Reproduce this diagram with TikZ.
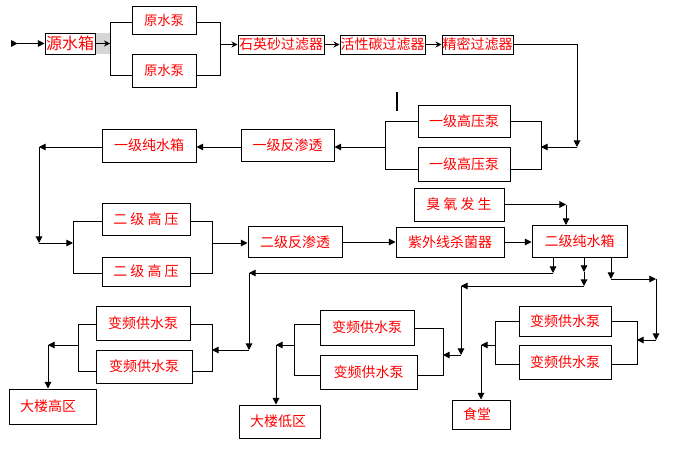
\documentclass[tikz,border=0pt]{standalone}
\usepackage{fontspec}
\setmainfont{Noto Sans CJK SC}
\usepackage{tikz}
\usetikzlibrary{arrows.meta,positioning}
\tikzstyle{box}=[draw=black, line width=0.75pt, inner sep=0pt, text=red, font=\fontsize{10.5}{12}\selectfont]
\tikzstyle{zone}=[box, align=left, inner xsep=8.25pt]
\tikzstyle{pipe}=[line width=0.75pt]
\tikzstyle{flow}=[pipe, -{Triangle[length=5pt,width=5pt]}]
\tikzstyle{feed}=[pipe, -{Stealth[length=4.5pt,width=4.5pt]}]
\tikzset{boxdim/.style 2 args={minimum width=#1*0.75pt, minimum height=#2*0.75pt}}

\begin{document}
\begin{tikzpicture}[x=0.75pt, y=-0.75pt]
  \useasboundingbox[fill=white] (0,0) rectangle (681,450);
%
  \fill[black!16] (95,33) rectangle (110,54);
  \node[box, boxdim={50}{21}, font=\fontsize{12}{14}\selectfont] (yxiang) at (70,43.5) {源水箱};
  \node[box, boxdim={64}{28}, font=\fontsize{10}{12}\selectfont] (ybA) at (164,20) {原水泵};
  \node[box, boxdim={64}{33}, font=\fontsize{10}{12}\selectfont] (ybB) at (164,70.5) {原水泵};
  \node[box, boxdim={86}{19}] (shiying) at (281,44.5) {石英砂过滤器};
  \node[box, boxdim={85}{19}] (huoxing) at (382.5,44.5) {活性碳过滤器};
  \node[box, boxdim={71}{19}] (jingmi) at (477.5,44.5) {精密过滤器};
%
  \coordinate (inlet) at (11,43.5);
  \coordinate (s1) at (110,43.5);
  \coordinate (s1a) at (110,22);
  \coordinate (s1b) at (110,75);
  \coordinate (m1) at (220,44.5);
  \coordinate (m1a) at (220,22);
  \coordinate (m1b) at (220,75);
  \draw[pipe, {Triangle[length=5pt,width=5pt,reversed]}-{Triangle[length=5pt,width=5pt]}] (inlet) -- (yxiang.west);
  \draw[feed] (yxiang.east) -- (s1);
  \draw[pipe] (ybA.west |- s1a) -- (s1a) -- (s1b) -- (ybB.west |- s1b);
  \draw[pipe] (ybA.east |- m1a) -- (m1a) -- (m1b) -- (ybB.east |- m1b);
  \draw[feed] (m1) -- (shiying.west);
  \draw[feed] (shiying) -- (huoxing);
  \draw[feed] (huoxing) -- (jingmi);
%
  \node[box, boxdim={92}{32}] (gyA) at (464,121) {一级高压泵};
  \node[box, boxdim={92}{34}] (gyB) at (464,164) {一级高压泵};
  \node[box, boxdim={93}{32}] (fs1) at (287.5,145) {一级反渗透};
  \node[box, boxdim={94}{33}] (cs1) at (149,145.5) {一级纯水箱};
  \draw[line width=1.5pt] (397,92) -- (397,111);
%
  \coordinate (c1) at (577,147);
  \coordinate (m2) at (541,147);
  \coordinate (m2a) at (541,121.5);
  \coordinate (m2b) at (541,169.5);
  \coordinate (s2) at (385,147);
  \coordinate (s2a) at (385,121.5);
  \coordinate (s2b) at (385,169.5);
  \coordinate (c2) at (39,147);
  \coordinate (c3) at (39,243);
  \draw[flow] (jingmi.east) -| (c1);
  \draw[flow] (c1) -- (m2);
  \draw[pipe] (gyA.east |- m2a) -- (m2a) -- (m2b) -- (gyB.east |- m2b);
  \draw[pipe] (gyA.west |- s2a) -- (s2a) -- (s2b) -- (gyB.west |- s2b);
  \draw[flow] (s2) -- (fs1.east |- s2);
  \draw[flow] (fs1.west |- s2) -- (cs1.east |- s2);
  \draw[flow] (cs1.west |- c2) -- (c2);
  \draw[flow] (c2) -- (c3);
%
  \node[box, boxdim={88}{32}] (egA) at (146,219) {二 级 高 压};
  \node[box, boxdim={88}{29}] (egB) at (146,271.5) {二 级 高 压};
  \node[box, boxdim={94}{31}] (fs2) at (295,242) {二级反渗透};
  \node[box, boxdim={108}{30}] (zw) at (450,242) {紫外线杀菌器};
  \node[box, boxdim={90}{33}] (cy) at (459,204.5) {臭 氧 发 生};
  \node[box, boxdim={95}{32}] (cs2) at (579.5,241.5) {二级纯水箱};
%
  \coordinate (s3) at (73,243);
  \coordinate (s3a) at (73,221);
  \coordinate (s3b) at (73,273);
  \coordinate (m3) at (212,243);
  \coordinate (m3a) at (212,221);
  \coordinate (m3b) at (212,273);
  \coordinate (c4) at (566,204.5);
  \draw[flow] (c3) -- (s3);
  \draw[pipe] (egA.west |- s3a) -- (s3a) -- (s3b) -- (egB.west |- s3b);
  \draw[pipe] (egA.east |- m3a) -- (m3a) -- (m3b) -- (egB.east |- m3b);
  \draw[flow] (m3) -- (fs2.west |- m3);
  \draw[flow] (fs2) -- (zw);
  \draw[flow] (zw) -- (cs2.west |- zw);
  \draw[flow] (cy) -- (c4);
  \draw[flow] (c4) -- (c4 |- cs2.north);
%
  \coordinate (d1) at (553,273);
  \coordinate (d2) at (249,273);
  \coordinate (d3) at (249,350);
  \coordinate (e1) at (584,272);
  \coordinate (e2) at (584,286);
  \coordinate (e3) at (461,286);
  \coordinate (e4) at (461,355);
  \coordinate (f1) at (611,279);
  \coordinate (f2) at (656,279);
  \coordinate (f3) at (656,340);
  \draw[flow] (cs2.south -| d1) -- (d1);
  \draw[flow] (d1) -- (d2);
  \draw[flow] (d2) -- (d3);
  \draw[flow] (cs2.south -| e1) -- (e1);
  \draw[flow] (e1) -- (e2);
  \draw[flow] (e2) -- (e3);
  \draw[flow] (e3) -- (e4);
  \draw[flow] (cs2.south -| f1) -- (f1);
  \draw[flow] (f1) -- (f2);
  \draw[flow] (f2) -- (f3);
%
  \node[box, boxdim={94}{34}] (bpLA) at (143,323) {变频供水泵};
  \node[box, boxdim={96}{33}] (bpLB) at (144,366.5) {变频供水泵};
  \node[zone, text width=48.75pt, boxdim={0}{35}] (gq) at (52.5,406.5) {大楼高区};
  \node[box, boxdim={94}{35}] (bpMA) at (367,327.5) {变频供水泵};
  \node[box, boxdim={97}{34}] (bpMB) at (368.5,372) {变频供水泵};
  \node[zone, text width=44.25pt, boxdim={0}{33}] (dq) at (279.5,421.5) {大楼低区};
  \node[box, boxdim={92}{30}] (bpRA) at (565,321) {变频供水泵};
  \node[box, boxdim={92}{34}] (bpRB) at (565,362) {变频供水泵};
  \node[zone, text width=27pt, boxdim={0}{29}] (st) at (481,414.5) {食堂};
%
  \coordinate (mL) at (212,350);
  \coordinate (mLa) at (212,324);
  \coordinate (mLb) at (212,371);
  \coordinate (sL) at (78,345);
  \coordinate (sLa) at (78,324);
  \coordinate (sLb) at (78,371);
  \coordinate (gL) at (48,345);
  \draw[flow] (d3) -- (mL);
  \draw[pipe] (bpLA.east |- mLa) -- (mLa) -- (mLb) -- (bpLB.east |- mLb);
  \draw[pipe] (bpLA.west |- sLa) -- (sLa) -- (sLb) -- (bpLB.west |- sLb);
  \draw[flow] (sL) -- (gL);
  \draw[flow] (gL) -- (gL |- gq.north);
%
  \coordinate (mM) at (443,355);
  \coordinate (mMa) at (443,328);
  \coordinate (mMb) at (443,375);
  \coordinate (sM) at (294,345);
  \coordinate (sMa) at (294,324);
  \coordinate (sMb) at (294,375);
  \coordinate (gM) at (276,345);
  \draw[flow] (e4) -- (mM);
  \draw[pipe] (bpMA.east |- mMa) -- (mMa) -- (mMb) -- (bpMB.east |- mMb);
  \draw[pipe] (bpMA.west |- sMa) -- (sMa) -- (sMb) -- (bpMB.west |- sMb);
  \draw[flow] (sM) -- (gM);
  \draw[flow] (gM) -- (gM |- dq.north);
%
  \coordinate (mR) at (637,340);
  \coordinate (mRa) at (637,321);
  \coordinate (mRb) at (637,364);
  \coordinate (sR) at (495,345);
  \coordinate (sRa) at (495,321);
  \coordinate (sRb) at (495,364);
  \coordinate (gR) at (481,345);
  \draw[flow] (f3) -- (mR);
  \draw[pipe] (bpRA.east |- mRa) -- (mRa) -- (mRb) -- (bpRB.east |- mRb);
  \draw[pipe] (bpRA.west |- sRa) -- (sRa) -- (sRb) -- (bpRB.west |- sRb);
  \draw[flow] (sR) -- (gR);
  \draw[flow] (gR) -- (gR |- st.north);
\end{tikzpicture}
\end{document}
